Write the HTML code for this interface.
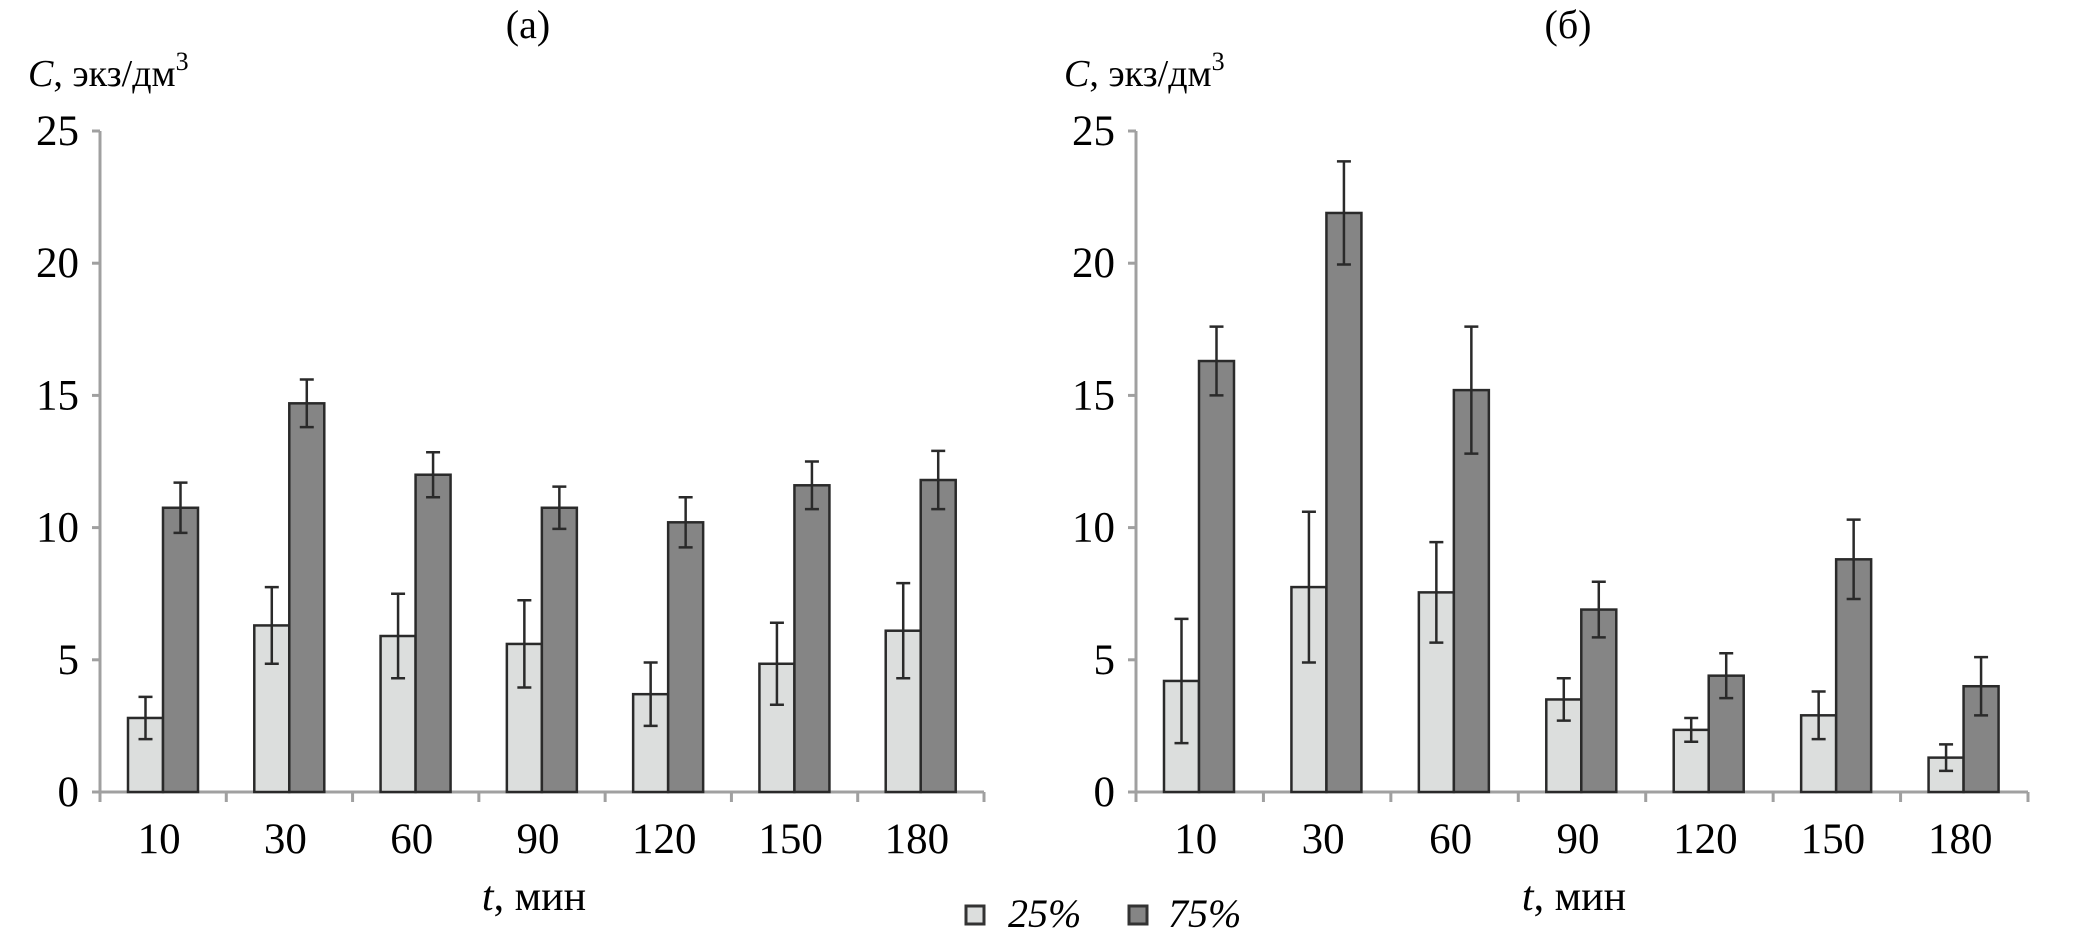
<!DOCTYPE html>
<html><head><meta charset="utf-8"><style>
html,body{margin:0;padding:0;background:#fff;}
svg{display:block;}
svg text{font-family:"Liberation Serif","Times New Roman",serif;}
</style></head><body>
<svg id="chart" width="2077" height="945" xmlns="http://www.w3.org/2000/svg" font-family="Liberation Serif, serif">
<g id="legend">
 <rect x="966" y="906" width="18" height="18" fill="#dcdedd" stroke="#333" stroke-width="3"/>
 <text x="1008" y="927" font-size="40" font-style="italic" font-family="Liberation Serif, serif">25%</text>
 <rect x="1129" y="906" width="18" height="18" fill="#858585" stroke="#333" stroke-width="3"/>
 <text x="1168" y="927" font-size="40" font-style="italic" font-family="Liberation Serif, serif">75%</text>
</g>
</svg>
<script>
const categories = ["10","30","60","90","120","150","180"];
const yTicks = [0,5,10,15,20,25];
const a25 = [2.8,6.3,5.9,5.6,3.7,4.85,6.1];
const a25err = [0.8,1.45,1.6,1.65,1.2,1.55,1.8];
const a75 = [10.75,14.7,12.0,10.75,10.2,11.6,11.8];
const a75err = [0.95,0.9,0.85,0.8,0.95,0.9,1.1];
const b25 = [4.2,7.75,7.55,3.5,2.35,2.9,1.3];
const b25err = [2.35,2.85,1.9,0.8,0.45,0.9,0.5];
const b75 = [16.3,21.9,15.2,6.9,4.4,8.8,4.0];
const b75err = [1.3,1.95,2.4,1.05,0.85,1.5,1.1];

const NS = "http://www.w3.org/2000/svg";
const svg = document.getElementById('chart');
function mk(tag, attrs, parent){const e=document.createElementNS(NS,tag);for(const k in attrs)e.setAttribute(k,attrs[k]);if(tag==='text')e.setAttribute('font-family','Liberation Serif, serif');(parent||svg).appendChild(e);return e;}

function panel(id, x0, x1, title, s25, e25, s75, e75){
  const y0=792, yTop=131, yMax=25;
  const yS=v=>y0-(v/yMax)*(y0-yTop);
  const cw=(x1-x0)/categories.length;
  const bw=35, off=28;
  const g=mk('g',{});
  
  
  const t=mk('text',{x:(x0+x1)/2-14,y:38,'font-size':40,'text-anchor':'middle'},g);t.textContent=title;
  
  
  const yl=mk('text',{x:x0-72,y:86,'font-size':38},g);
  yl.innerHTML='<tspan font-style="italic">C</tspan>, экз/дм<tspan dy="-16" font-size="26">3</tspan>';
  
  
  const ax=mk('line',{x1:x0,y1:yTop,x2:x0,y2:y0+6,stroke:'#a0a0a0','stroke-width':3},g);
  
  
  yTicks.forEach(v=>{
    const tk=mk('line',{x1:x0-8,y1:yS(v),x2:x0,y2:yS(v),stroke:'#a0a0a0','stroke-width':3},g);
    
    
    const l=mk('text',{x:x0-21,y:yS(v)+14,'font-size':43,'text-anchor':'end'},g);l.textContent=v;
    
    
  });
  const xa=mk('line',{x1:x0-8,y1:y0,x2:x1,y2:y0,stroke:'#a0a0a0','stroke-width':3},g);
  
  
  for(let i=0;i<=categories.length;i++){
    const tk=mk('line',{x1:x0+i*cw,y1:y0,x2:x0+i*cw,y2:y0+10,stroke:'#a0a0a0','stroke-width':3},g);
    
    
  }
  categories.forEach((c,i)=>{
    const l=mk('text',{x:x0+i*cw+cw/2-4,y:853,'font-size':43,'text-anchor':'middle'},g);l.textContent=c;
    
    
    [[s25,e25,'#dcdedd',0,'25'],[s75,e75,'#858585',1,'75']].forEach(([s,e,col,k,nm])=>{
      const bx=x0+i*cw+off+k*bw, v=s[i];
      const r=mk('rect',{x:bx,y:yS(v),width:bw,height:y0-yS(v),fill:col,stroke:'#2a2a2a','stroke-width':2.5},g);
      
      
      const cx=bx+bw/2, hi=yS(v+e[i]), lo=yS(v-e[i]);
      const eb=mk('path',{d:`M${cx},${hi}V${lo}M${cx-7},${hi}H${cx+7}M${cx-7},${lo}H${cx+7}`,stroke:'#2a2a2a','stroke-width':2.5,fill:'none'},g);
      
      
    });
  });
  const xl=mk('text',{x:(x0+x1)/2-8,y:910,'font-size':42,'text-anchor':'middle'},g);
  xl.innerHTML='<tspan font-style="italic">t</tspan>, мин';
  
  
}
panel('a',100,984,'(a)',a25,a25err,a75,a75err);
panel('b',1136,2028,'(б)',b25,b25err,b75,b75err);
</script>
</body></html>
